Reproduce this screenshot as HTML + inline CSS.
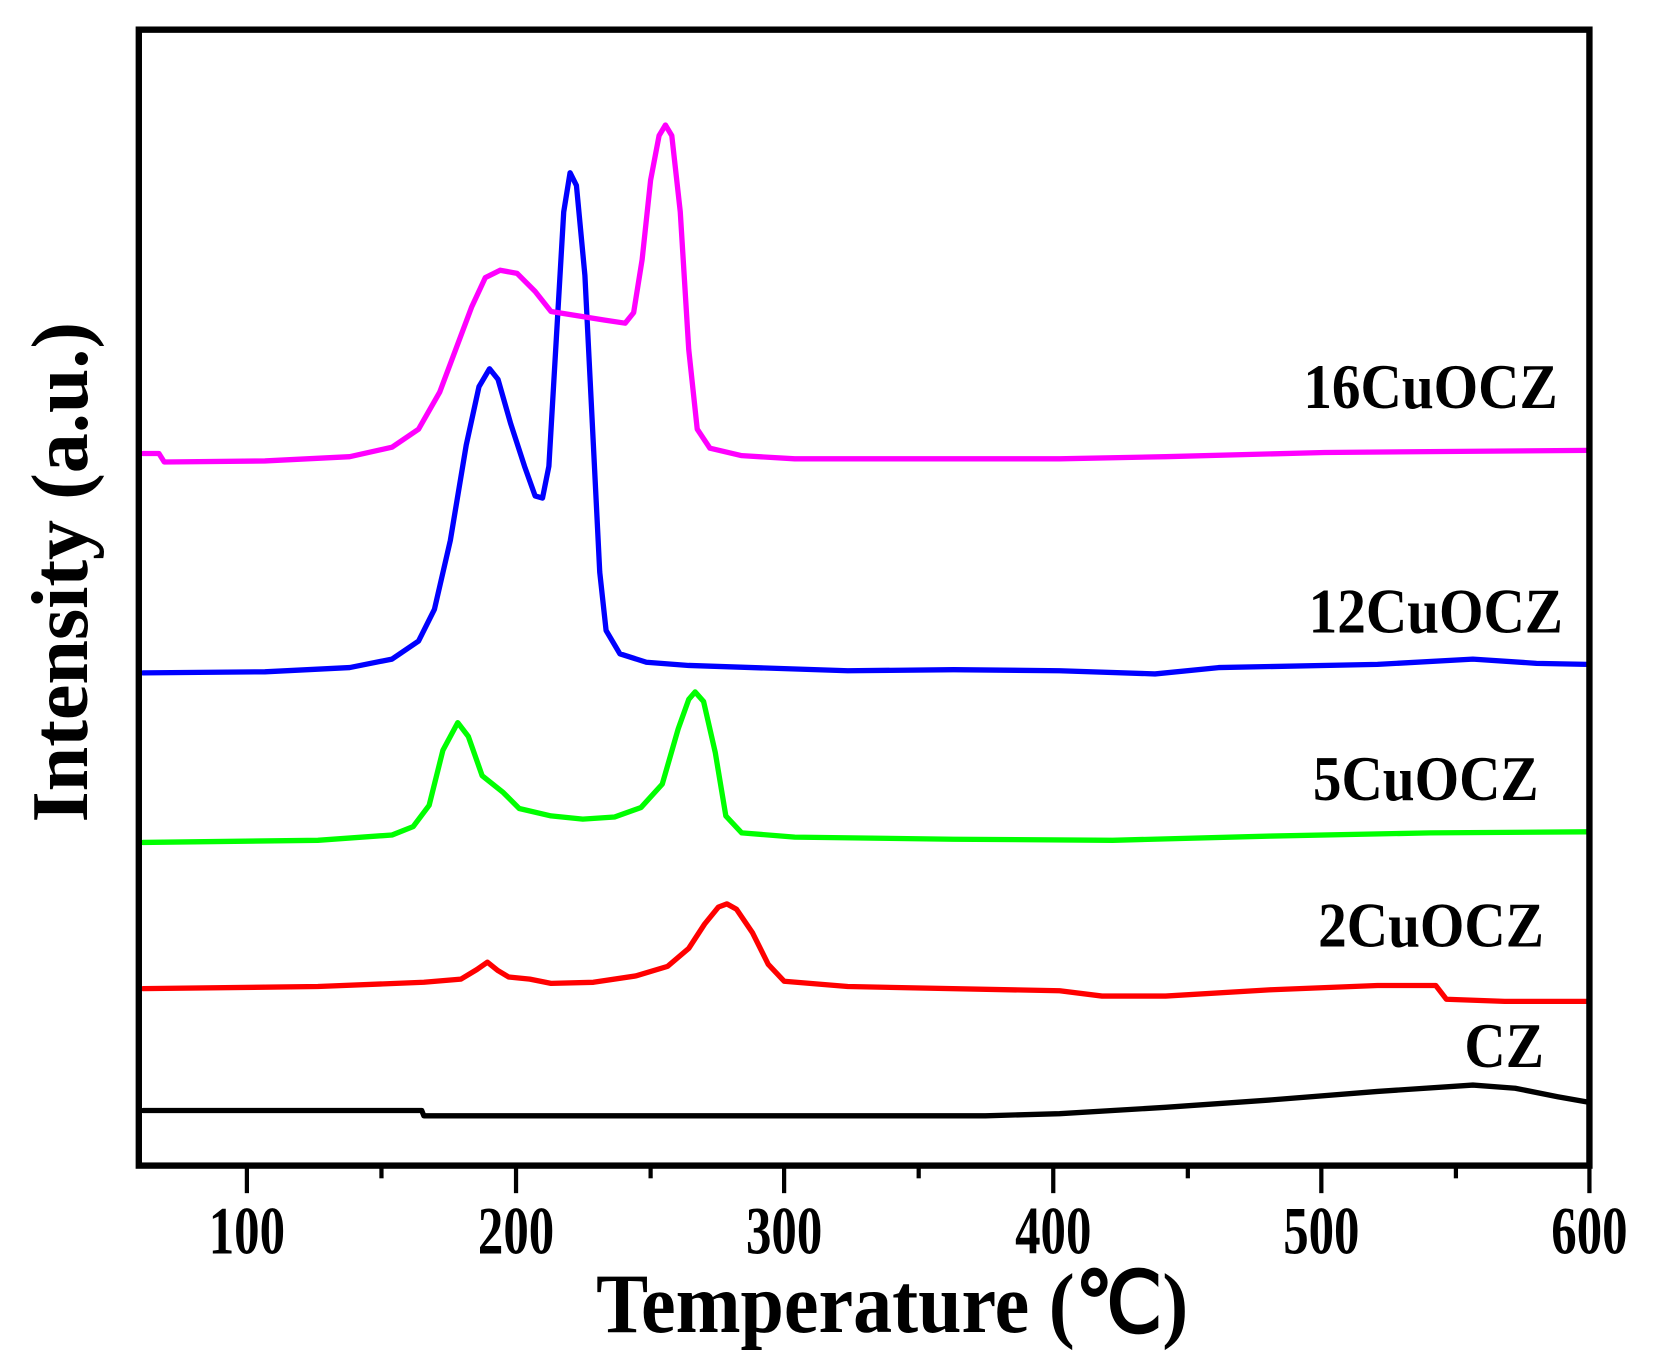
<!DOCTYPE html>
<html><head><style>html,body{margin:0;padding:0;background:#fff}svg{display:block}</style></head>
<body>
<svg width="1653" height="1368" viewBox="0 0 1560 1291" preserveAspectRatio="none" xmlns="http://www.w3.org/2000/svg" font-family="'Liberation Serif',serif" font-weight="bold">
<rect width="1560" height="1291" fill="#fff"/>
<g fill="none" stroke-width="5" stroke-linejoin="round" stroke-linecap="round">
<polyline stroke="#000" points="135,1048 233,1048 398,1048 400,1053 930,1053 1000,1051 1100,1045 1200,1038 1300,1030 1390,1024 1430,1027 1470,1035 1498,1040"/>
<polyline stroke="#f00" points="135,933 300,931 400,927 435,924 450,915 460,908 470,916 480,922 500,924 520,928 560,927 600,921 630,912 650,895 665,872 678,856 686,853 695,858 710,880 725,910 740,926 800,931 1000,935 1040,940 1100,940 1200,934 1300,930 1355,930 1365,943 1420,945 1498,945"/>
<polyline stroke="#0f0" points="135,795 300,793 370,788 390,780 405,760 418,708 432,682 442,695 455,732 475,748 490,763 520,770 550,773 580,771 605,762 625,740 640,688 650,660 656,653 664,662 675,710 685,770 700,786 750,790 900,792 1050,793 1200,789 1350,786 1498,785"/>
<polyline stroke="#00f" points="135,635 250,634 330,630 370,622 395,605 410,575 425,510 440,420 452,365 462,348 470,358 482,400 495,440 505,468 512,470 518,440 525,320 532,200 538,163 544,175 552,260 560,420 566,540 572,595 585,617 610,625 650,628 800,633 900,632 1000,633 1090,636 1150,630 1300,627 1390,622 1450,626 1498,627"/>
<polyline stroke="#f0f" points="135,428 150,428 155,436 250,435 330,431 370,422 395,405 415,370 430,330 445,290 458,262 472,255 488,258 505,275 520,294 545,298 570,302 590,305 598,295 606,245 614,170 622,128 628,118 634,128 642,200 650,330 658,405 670,423 700,430 750,433 1000,433 1100,431 1250,427 1498,425"/>
</g>
<rect x="131" y="28" width="1369" height="1072" fill="none" stroke="#000" stroke-width="6"/>
<g stroke="#000" stroke-width="4">
<line x1="233" y1="1100" x2="233" y2="1126"/><line x1="487" y1="1100" x2="487" y2="1126"/><line x1="740" y1="1100" x2="740" y2="1126"/><line x1="994" y1="1100" x2="994" y2="1126"/><line x1="1247" y1="1100" x2="1247" y2="1126"/><line x1="1500" y1="1100" x2="1500" y2="1126"/>
<line x1="360" y1="1100" x2="360" y2="1112"/><line x1="614" y1="1100" x2="614" y2="1112"/><line x1="867" y1="1100" x2="867" y2="1112"/><line x1="1121" y1="1100" x2="1121" y2="1112"/><line x1="1374" y1="1100" x2="1374" y2="1112"/>
</g>
<g font-size="64" text-anchor="middle" fill="#000">
<text transform="translate(233,1183) scale(0.75,1)">100</text>
<text transform="translate(487,1183) scale(0.75,1)">200</text>
<text transform="translate(740,1183) scale(0.75,1)">300</text>
<text transform="translate(994,1183) scale(0.75,1)">400</text>
<text transform="translate(1247,1183) scale(0.75,1)">500</text>
<text transform="translate(1500,1183) scale(0.75,1)">600</text>
</g>
<text transform="translate(842,1257) scale(0.92,1)" font-size="80" text-anchor="middle">Temperature (℃)</text>
<text transform="translate(82,540) rotate(-90) scale(1.05,1.05)" font-size="72" text-anchor="middle">Intensity (a.u.)</text>
<g font-size="60" text-anchor="end" fill="#000">
<text transform="translate(1470,385) scale(0.9,1)">16CuOCZ</text>
<text transform="translate(1475,597) scale(0.9,1)">12CuOCZ</text>
<text transform="translate(1452,755) scale(0.9,1)">5CuOCZ</text>
<text transform="translate(1457,893) scale(0.9,1)">2CuOCZ</text>
<text transform="translate(1457,1007) scale(0.9,1)">CZ</text>
</g>
</svg>
</body></html>
